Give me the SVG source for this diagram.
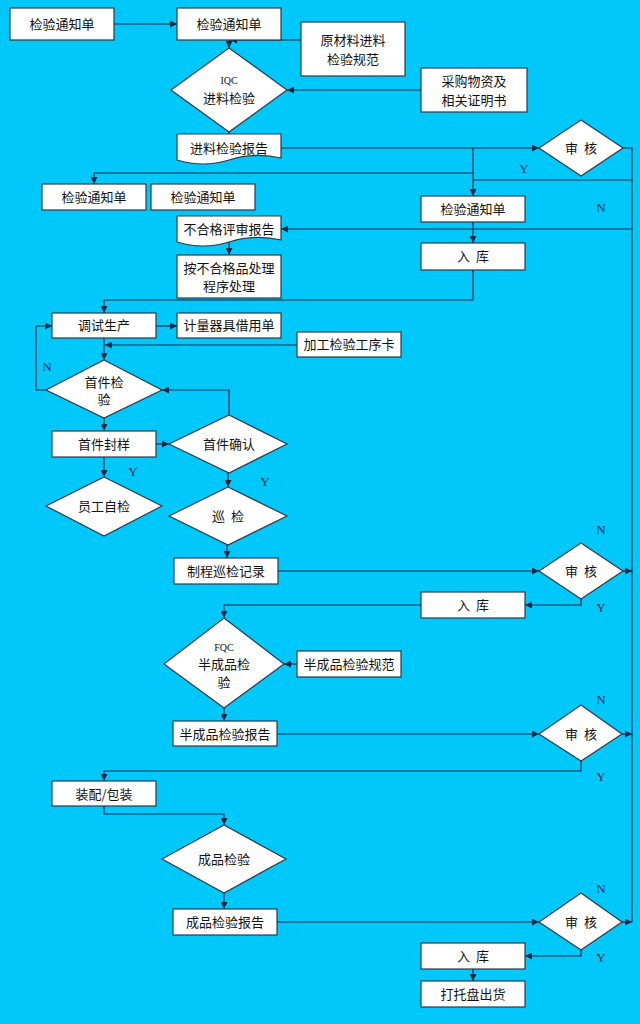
<svg xmlns="http://www.w3.org/2000/svg" width="640" height="1024" viewBox="0 0 640 1024">
<defs>
<marker id="ar" viewBox="0 0 10 10" refX="10" refY="5" markerWidth="7" markerHeight="7" orient="auto" markerUnits="userSpaceOnUse"><path d="M0,0L10,5L0,10z" fill="#0a2a4a"/></marker>
<style>
.b{fill:#fff;stroke:#2a3a4a;stroke-width:1.2}
.t{font-family:"Noto Sans CJK SC","Liberation Sans",sans-serif;font-size:13px;fill:#111;text-anchor:middle;white-space:pre}
.l{font-family:"Liberation Serif",serif;font-size:13px;fill:#0a2a4a;text-anchor:middle}
.c path,.c polyline,.c line{fill:none;stroke:#0a2a4a;stroke-width:1.2}
.a{marker-end:url(#ar)}
</style>
</defs>
<rect width="640" height="1024" fill="#00c8fa"/>
<g class="c">
<line class="a" x1="114" y1="24" x2="177" y2="24"/>
<line class="a" x1="229" y1="40" x2="229" y2="48"/>
<line class="a" x1="301" y1="40" x2="230" y2="40"/>
<line class="a" x1="421" y1="90" x2="287" y2="90"/>
<line class="a" x1="229" y1="132" x2="229" y2="134"/>
<line class="a" x1="281" y1="148" x2="539" y2="148"/>
<line class="a" x1="473" y1="148" x2="473" y2="196"/>
<polyline class="a" points="473,173 94,173 94,184"/>
<polyline points="473,180 632,180"/>
<polyline points="623,148 632,148 632,922"/>
<line class="a" x1="632" y1="229" x2="281" y2="229"/>
<line class="a" x1="473" y1="222" x2="473" y2="243"/>
<line class="a" x1="229" y1="242" x2="229" y2="255"/>
<polyline class="a" points="473,270 473,300 104,300 104,313"/>
<line class="a" x1="156" y1="326" x2="177" y2="326"/>
<line class="a" x1="297" y1="345" x2="105" y2="345"/>
<line class="a" x1="104" y1="338" x2="104" y2="360"/>
<polyline class="a" points="46,390 36,390 36,326 52,326"/>
<line class="a" x1="104" y1="418" x2="104" y2="431"/>
<line class="a" x1="156" y1="444" x2="169" y2="444"/>
<polyline class="a" points="229,415 229,390 162,390"/>
<line class="a" x1="104" y1="457" x2="104" y2="477"/>
<line class="a" x1="228" y1="473" x2="228" y2="487"/>
<line class="a" x1="227" y1="545" x2="227" y2="558"/>
<line class="a" x1="278" y1="571" x2="539" y2="571"/>
<line class="a" x1="623" y1="571" x2="632" y2="571"/>
<polyline class="a" points="581,599 581,605 525,605"/>
<polyline class="a" points="421,605 224,605 224,618"/>
<line class="a" x1="297" y1="664" x2="284" y2="664"/>
<line class="a" x1="224" y1="708" x2="224" y2="721"/>
<line class="a" x1="277" y1="734" x2="539" y2="734"/>
<line class="a" x1="622" y1="734" x2="632" y2="734"/>
<polyline class="a" points="581,761 581,771 104,771 104,781"/>
<polyline class="a" points="104,806 104,814 224,814 224,825"/>
<line class="a" x1="224" y1="893" x2="224" y2="909"/>
<line class="a" x1="277" y1="922" x2="539" y2="922"/>
<line class="a" x1="622" y1="922" x2="632" y2="922"/>
<polyline class="a" points="581,950 581,956 525,956"/>
<line class="a" x1="473" y1="969" x2="473" y2="981"/>
</g>
<g id="n1"><rect class="b" x="10" y="8" width="104" height="32"/><text class="t" x="62" y="29">检验通知单</text></g>
<g id="n2"><rect class="b" x="177" y="8" width="104" height="32"/><text class="t" x="229" y="29">检验通知单</text></g>
<g id="n3"><rect class="b" x="301" y="22" width="104" height="54"/><text class="t" x="353" y="45">原材料进料</text><text class="t" x="353" y="64">检验规范</text></g>
<g id="n4"><polygon class="b" points="229,48 287,90 229,132 171,90"/><text class="t" x="229" y="84" style="font-family:'Liberation Serif',serif;font-size:10px">IQC</text><text class="t" x="229" y="103">进料检验</text></g>
<g id="n5"><rect class="b" x="421" y="68" width="106" height="44"/><text class="t" x="474" y="86">采购物资及</text><text class="t" x="474" y="105">相关证明书</text></g>
<g id="n6"><path class="b" d="M177,134H281V158Q255,152 229,160T177,160Z"/><text class="t" x="229" y="153">进料检验报告</text></g>
<g id="n7"><polygon class="b" points="581,120 623,148 581,176 539,148"/><text class="t" x="581" y="153">审&#160;&#160;核</text></g>
<g id="n8"><rect class="b" x="42" y="184" width="104" height="26"/><text class="t" x="94" y="202">检验通知单</text></g>
<g id="n9"><rect class="b" x="151" y="184" width="104" height="26"/><text class="t" x="203" y="202">检验通知单</text></g>
<g id="n10"><rect class="b" x="421" y="196" width="104" height="26"/><text class="t" x="473" y="214">检验通知单</text></g>
<g id="n11"><path class="b" d="M177,216H281V240Q255,234 229,242T177,242Z"/><text class="t" x="229" y="234">不合格评审报告</text></g>
<g id="n12"><rect class="b" x="421" y="243" width="104" height="27"/><text class="t" x="473" y="261">入&#160;&#160;库</text></g>
<g id="n13"><rect class="b" x="177" y="255" width="104" height="43"/><text class="t" x="229" y="273">按不合格品处理</text><text class="t" x="229" y="291">程序处理</text></g>
<g id="n14"><rect class="b" x="52" y="313" width="104" height="25"/><text class="t" x="104" y="330">调试生产</text></g>
<g id="n15"><rect class="b" x="177" y="313" width="104" height="25"/><text class="t" x="229" y="330">计量器具借用单</text></g>
<g id="n16"><rect class="b" x="297" y="332" width="104" height="25"/><text class="t" x="349" y="349">加工检验工序卡</text></g>
<g id="n17"><polygon class="b" points="104,360 162,390 104,418 46,390"/><text class="t" x="104" y="387">首件检</text><text class="t" x="104" y="404">验</text></g>
<g id="n18"><rect class="b" x="52" y="431" width="104" height="26"/><text class="t" x="104" y="449">首件封样</text></g>
<g id="n19"><polygon class="b" points="229,415 287,444 229,473 169,444"/><text class="t" x="229" y="449">首件确认</text></g>
<g id="n20"><polygon class="b" points="104,477 162,506 104,536 46,506"/><text class="t" x="104" y="511">员工自检</text></g>
<g id="n21"><polygon class="b" points="228,487 287,516 228,545 169,516"/><text class="t" x="228" y="521">巡&#160;&#160;检</text></g>
<g id="n22"><rect class="b" x="174" y="558" width="104" height="26"/><text class="t" x="226" y="576">制程巡检记录</text></g>
<g id="n23"><polygon class="b" points="581,543 623,571 581,599 539,571"/><text class="t" x="581" y="576">审&#160;&#160;核</text></g>
<g id="n24"><rect class="b" x="421" y="592" width="104" height="26"/><text class="t" x="473" y="610">入&#160;&#160;库</text></g>
<g id="n25"><polygon class="b" points="224,618 284,664 224,708 164,664"/><text class="t" x="224" y="651" style="font-family:'Liberation Serif',serif;font-size:10px">FQC</text><text class="t" x="224" y="669">半成品检</text><text class="t" x="224" y="687">验</text></g>
<g id="n26"><rect class="b" x="297" y="651" width="104" height="26"/><text class="t" x="349" y="669">半成品检验规范</text></g>
<g id="n27"><rect class="b" x="173" y="721" width="104" height="25"/><text class="t" x="225" y="739">半成品检验报告</text></g>
<g id="n28"><polygon class="b" points="581,705 622,734 581,761 539,734"/><text class="t" x="581" y="739">审&#160;&#160;核</text></g>
<g id="n29"><rect class="b" x="52" y="781" width="104" height="25"/><text class="t" x="104" y="799">装配/包装</text></g>
<g id="n30"><polygon class="b" points="224,825 286,859 224,893 162,859"/><text class="t" x="224" y="864">成品检验</text></g>
<g id="n31"><rect class="b" x="173" y="909" width="104" height="26"/><text class="t" x="225" y="927">成品检验报告</text></g>
<g id="n32"><polygon class="b" points="581,893 622,922 581,950 539,922"/><text class="t" x="581" y="927">审&#160;&#160;核</text></g>
<g id="n33"><rect class="b" x="421" y="943" width="104" height="26"/><text class="t" x="473" y="961">入&#160;&#160;库</text></g>
<g id="n34"><rect class="b" x="421" y="981" width="104" height="26"/><text class="t" x="473" y="999">打托盘出货</text></g>
<g id="labels">
<text class="l" x="524" y="173">Y</text><text class="l" x="601" y="212">N</text>
<text class="l" x="47" y="371">N</text><text class="l" x="133" y="476">Y</text><text class="l" x="265" y="486">Y</text>
<text class="l" x="601" y="534">N</text><text class="l" x="601" y="612">Y</text>
<text class="l" x="601" y="704">N</text><text class="l" x="601" y="781">Y</text>
<text class="l" x="601" y="893">N</text><text class="l" x="601" y="962">Y</text>
</g>
</svg>
